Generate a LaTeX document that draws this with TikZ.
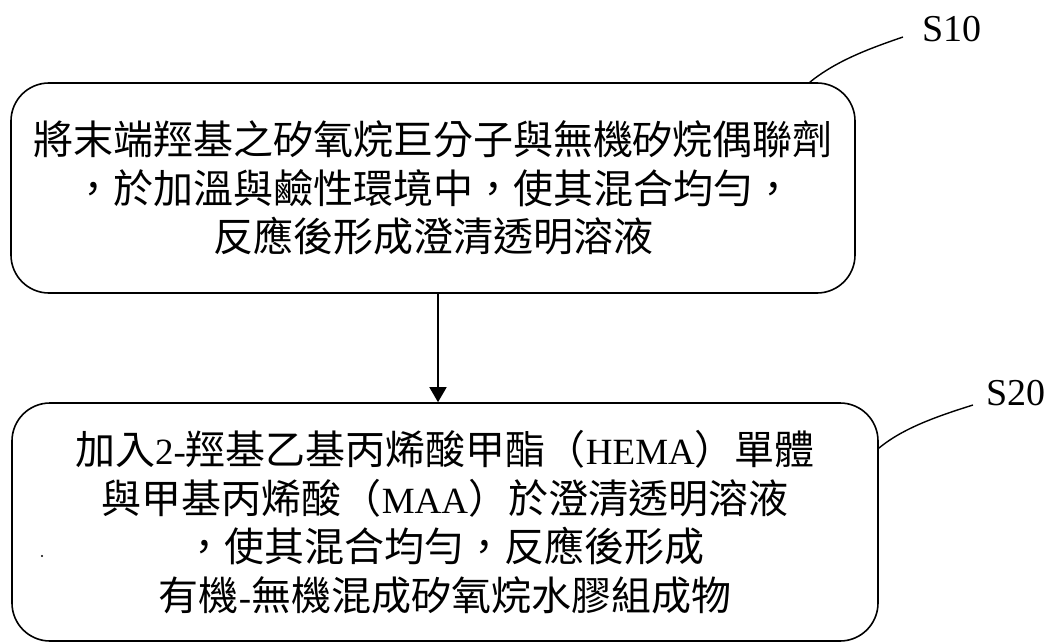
\documentclass[tikz,border=0pt]{standalone}
\usepackage{fontspec}
\setmainfont{Liberation Serif}
\newfontfamily\cjk{Noto Sans CJK TC}
\newfontfamily\latfont{Liberation Serif}
\usetikzlibrary{arrows.meta}
\newcommand\lat[1]{{\latfont\fontsize{37}{48}\selectfont #1}}
\begin{document}
\begin{tikzpicture}[x=1pt,y=-1pt,
  stepbox/.style={draw, line width=1.6pt, rounded corners=38pt, align=center, inner sep=0pt,
    font=\cjk\fontsize{40}{48.5}\selectfont},
  lead/.style={line width=1.4pt},
  tag/.style={font=\latfont\fontsize{38}{40}\selectfont, inner sep=0pt}]
\useasboundingbox (0,0) rectangle (1055,642);
\node[stepbox, minimum width=844pt, minimum height=210pt] (b1) at (433,188)
  {將末端羥基之矽氧烷巨分子與無機矽烷偶聯劑\\，於加溫與鹼性環境中，使其混合均勻，\\反應後形成澄清透明溶液};
\node[stepbox, minimum width=866pt, minimum height=238pt] (b2) at (445,522)
  {加入\lat{2-}羥基乙基丙烯酸甲酯（\lat{HEMA}）單體\\與甲基丙烯酸（\lat{MAA}）於澄清透明溶液\\，使其混合均勻，反應後形成\\有機\lat{-}無機混成矽氧烷水膠組成物};
\coordinate (a1) at ([xshift=5pt]b1.south);
\draw[line width=1.6pt, -{Triangle[length=15pt,width=17pt]}] (a1) -- (a1 |- b2.north);
\node[tag] (s10) at (952,29) {S10};
\node[tag] (s20) at (1016,393) {S20};
\coordinate (e10) at (903,37);
\coordinate (e20) at (973,405);
\draw[lead] ([xshift=-46pt]b1.north east) .. controls (836,61) and (868,49) .. (e10);
\draw[lead] ([yshift=-46pt]b2.north east) .. controls (903,428) and (938,416) .. (e20);
\fill (42,556) circle (1.2pt);
\end{tikzpicture}
\end{document}
